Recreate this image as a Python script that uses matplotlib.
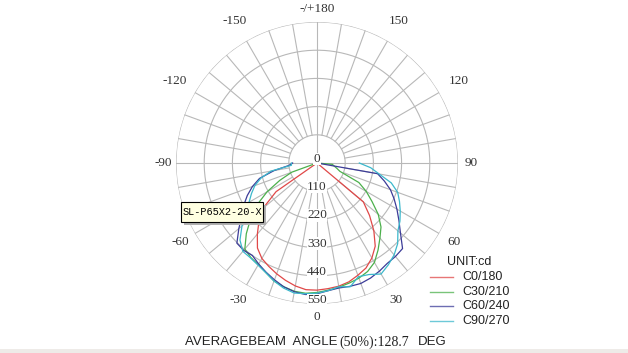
import numpy as np
import matplotlib.pyplot as plt
import matplotlib.transforms as mtransforms
from matplotlib.lines import Line2D
from matplotlib.patches import Rectangle

# gamma angles (deg), 0 = nadir, + to the right
angles = list(range(-90, 95, 5))

# intensity (cd) per C-plane
c0_180 = [0, 0, 0, 0, 0, 0, 0,
          195, 275, 320, 362, 405, 430, 445, 460, 474, 487, 496,
          496,
          492, 488, 480, 466, 452, 428, 396, 345, 290, 236, 0,
          0, 0, 0, 0, 0, 0, 0]
c30_210 = [0, 0, 0, 0, 105, 160, 225, 287, 338, 390, 438, 450, 458, 472, 490, 500, 508, 510,
           505,
           498, 492, 485, 478, 467, 448, 415, 382, 353, 312, 262, 222, 180, 95, 80, 68, 60, 0]
c60_240 = [95, 110, 170, 232, 268, 300, 330, 358, 398, 442, 445, 440, 455, 470, 485, 500, 510, 515,
           510,
           500, 495, 498, 500, 495, 487, 478, 476, 472, 425, 390, 360, 332, 305, 272, 240, 0, 0]
c90_270 = [100, 100, 182, 226, 258, 282, 306, 336, 382, 425, 450, 452, 460, 472, 490, 505, 515, 512,
           508,
           500, 490, 500, 472, 480, 500, 485, 468, 445, 412, 395, 375, 355, 335, 300, 246, 210, 165]

series_names = ['C0/180', 'C30/210', 'C60/240', 'C90/270']
ring_values = [110, 220, 330, 440, 550]
angle_ticks = [0, 30, 60, 90, 120, 150, 180, -150, -120, -90, -60, -30]
angle_labels = ['0', '30', '60', '90', '120', '150', '-/+180', '-150', '-120', '-90', '-60', '-30']
unit_text = 'UNIT:cd'
product = 'SL-P65X2-20-X'
beam_angle = 128.7

colors = ['#e04848', '#4cb04c', '#3c3c98', '#3cb8cc']
grid_color = '#b8b8b8'

W, H = 628, 353
fig = plt.figure(figsize=(W / 100, H / 100), dpi=100)
fig.patch.set_facecolor('white')

# polar axes: centre (317,163) px, outer ring radius 141 px
cx, cy, R = 317, 163, 141
rmax = ring_values[-1]
ax = fig.add_axes([(cx - R) / W, (H - cy - R) / H, 2 * R / W, 2 * R / H], projection='polar')
ax.set_theta_zero_location('S')
ax.set_theta_direction(1)
ax.set_ylim(0, rmax)
ax.grid(False)
ax.set_xticks([])
ax.set_yticks([])
ax.spines['polar'].set_visible(False)
ax.patch.set_visible(False)

# grid
t = np.linspace(0, 2 * np.pi, 500)
for rv in ring_values:
    ax.plot(t, np.full_like(t, rv), color=grid_color, lw=0.8, zorder=1)
for a in range(0, 360, 10):
    r0 = 0 if a % 90 == 0 else ring_values[0]
    ax.plot(np.radians([a, a]), [r0, rmax], color=grid_color, lw=0.8, zorder=1)

# curves
th = np.radians(angles)
for vals, c in zip([c0_180, c30_210, c60_240, c90_270], colors):
    ax.plot(th, vals, color=c, lw=0.9, zorder=2)

# angle labels round the outside
px2cd = rmax / R
for a, lbl in zip(angle_ticks, angle_labels):
    if abs(a) in (0, 90, 180):
        rp = 154
    elif abs(a) < 90:
        rp = 158
    else:
        rp = 164
    ax.text(np.radians(a), rp * px2cd, lbl, ha='center', va='center', fontsize=9.5,
            family='Liberation Serif', color='#333333', clip_on=False)

# ring labels along the nadir
up = ax.transData + mtransforms.ScaledTranslation(0, 4 / 100, fig.dpi_scale_trans)
for rv in [0] + ring_values:
    ax.text(0, rv, str(rv), transform=up, ha='center', va='center', fontsize=9.5,
            family='Liberation Serif', color='#333333', zorder=3,
            bbox=dict(fc='white', ec='none', pad=0.2))

# product label box with shadow
bx0, by0, bx1, by1 = 181, 202, 263, 222
fig.add_artist(Rectangle(((bx0 + 3) / W, 1 - (by1 + 3) / H), (bx1 - bx0) / W, (by1 - by0) / H,
                         transform=fig.transFigure, fc='#b0b0b0', ec='none', zorder=5))
fig.add_artist(Rectangle((bx0 / W, 1 - by1 / H), (bx1 - bx0) / W, (by1 - by0) / H,
                         transform=fig.transFigure, fc='#ffffe1', ec='black', lw=0.8, zorder=6))
fig.text((bx0 + bx1) / 2 / W, 1 - 212 / H, product, ha='center', va='center', fontsize=7.4,
         family='Liberation Mono', color='black', zorder=7)

# legend
fig.text(447 / W, 1 - 262 / H, unit_text, ha='left', va='center', fontsize=9,
         family='Liberation Sans', color='#222222')
for i, (name, c) in enumerate(zip(series_names, colors)):
    yy = 1 - (277 + 14.7 * i) / H
    fig.add_artist(Line2D([430 / W, 453 / W], [yy, yy], transform=fig.transFigure,
                          color=c, lw=1, alpha=0.75))
    fig.text(462 / W, yy, name, ha='left', va='center', fontsize=9,
             family='Liberation Sans', color='#222222')

# beam angle line
yb = 1 - 342 / H
fig.text(337 / W, yb, 'AVERAGEBEAM  ANGLE', ha='right', va='center', fontsize=9.5,
         family='Liberation Sans', color='#222222')
fig.text(339 / W, yb, f'(50%):{beam_angle}', ha='left', va='center', fontsize=10,
         family='Liberation Serif', color='#222222')
fig.text(418 / W, yb, 'DEG', ha='left', va='center', fontsize=9.5,
         family='Liberation Sans', color='#222222')

fig.add_artist(Rectangle((0, 0), 1, 4 / H, transform=fig.transFigure, fc='#eeebe8', ec='none'))

fig.savefig('out.png', dpi=100)
